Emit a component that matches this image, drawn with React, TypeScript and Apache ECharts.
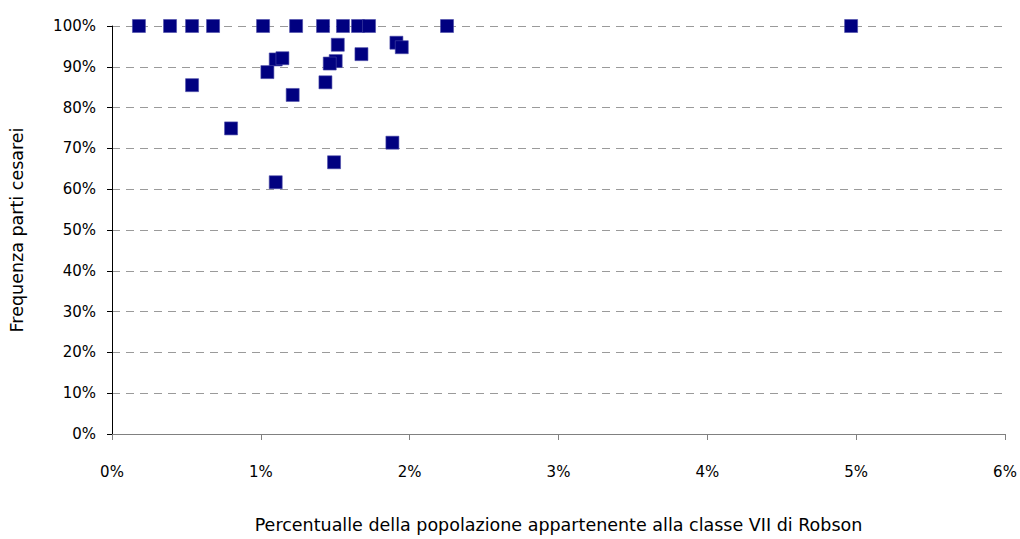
import React, { useEffect, useRef } from "react";
import * as echarts from "echarts";

const xValues: number[] = [
  0.181, 0.39, 0.538, 0.679, 1.015, 1.237, 1.418, 1.552, 1.653, 1.727, 2.251, 4.966,
  1.517, 1.911, 1.947, 1.1, 1.145, 1.503, 1.463, 1.676, 1.044, 0.538, 1.434, 1.214,
  0.8, 1.884, 1.492, 1.1,
];
const yValues: number[] = [
  100, 100, 100, 100, 100, 100, 100, 100, 100, 100, 100, 100,
  95.4, 95.9, 94.8, 91.8, 92.1, 91.4, 90.8, 93.1, 88.7, 85.5, 86.2, 83.1,
  74.9, 71.4, 66.6, 61.7,
];
const xAxisTitle = "Percentualle della popolazione appartenente alla classe VII di Robson";
const yAxisTitle = "Frequenza parti cesarei";

const FONT = "'DejaVu Sans', sans-serif";

export default function App() {
  const ref = useRef<HTMLDivElement>(null);
  useEffect(() => {
    if (!ref.current) return;
    const chart = echarts.init(ref.current, undefined, { renderer: "svg" });
    const data = xValues.map((x, i) => [x, yValues[i]]);
    chart.setOption({
      animation: false,
      backgroundColor: "#ffffff",
      textStyle: { fontFamily: FONT },
      grid: { left: 112, right: 15, top: 26, bottom: 96, containLabel: false },
      xAxis: {
        type: "value",
        min: 0,
        max: 6,
        interval: 1,
        name: xAxisTitle,
        nameLocation: "middle",
        nameGap: 82,
        nameTextStyle: { fontFamily: FONT, fontSize: 17.5, color: "#000" },
        axisLine: { show: true, lineStyle: { color: "#808080", width: 1 } },
        axisTick: { show: true, inside: false, length: 6, lineStyle: { color: "#808080" } },
        axisLabel: {
          formatter: (v: number) => `${v}%`,
          margin: 30,
          fontFamily: FONT,
          fontSize: 15,
          color: "#000",
        },
        splitLine: { show: false },
      },
      yAxis: {
        type: "value",
        min: 0,
        max: 100,
        interval: 10,
        name: yAxisTitle,
        nameLocation: "middle",
        nameGap: 86,
        nameTextStyle: { fontFamily: FONT, fontSize: 17.5, color: "#000" },
        axisLine: { show: true, lineStyle: { color: "#000", width: 1 } },
        axisTick: { show: true, inside: false, length: 5, lineStyle: { color: "#000" } },
        axisLabel: {
          formatter: (v: number) => `${v}%`,
          margin: 16,
          fontFamily: FONT,
          fontSize: 15,
          color: "#000",
        },
        splitLine: {
          show: true,
          lineStyle: { color: "#9a9a9a", type: [8, 6], width: 1 },
        },
      },
      series: [
        {
          type: "scatter",
          symbol: "rect",
          symbolSize: 13,
          itemStyle: { color: "#000080", opacity: 1, borderColor: "#4a4aa8", borderWidth: 0.6 },
          data,
        },
      ],
    });
    return () => chart.dispose();
  }, []);
  return <div ref={ref} style={{ width: 1020, height: 539, position: "absolute", left: 0, top: 0 }} />;
}
